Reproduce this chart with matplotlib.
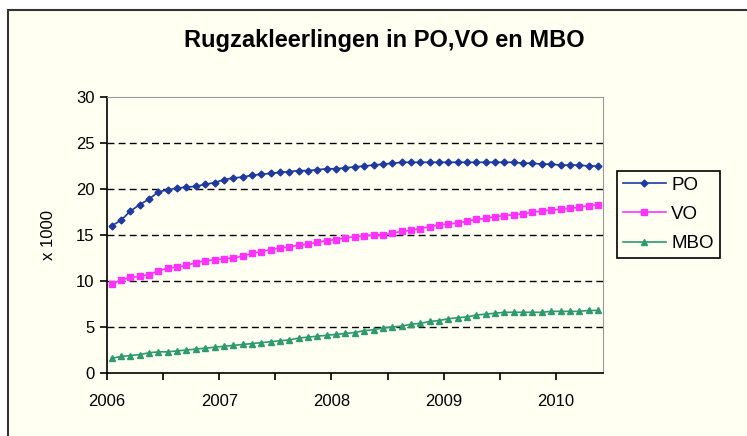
import numpy as np
import matplotlib
matplotlib.use("Agg")
import matplotlib.pyplot as plt
from matplotlib.patches import Rectangle

plt.rcParams["font.family"] = ["Liberation Sans", "DejaVu Sans"]

# monthly values, Jan 2006 .. May 2010 (x 1000)
po = [16.0, 16.6, 17.6, 18.3, 18.9, 19.7, 19.9, 20.1, 20.2, 20.3,
      20.5, 20.7, 21.0, 21.2, 21.3, 21.5, 21.6, 21.7, 21.8, 21.9,
      22.0, 22.0, 22.1, 22.2, 22.2, 22.3, 22.4, 22.5, 22.6, 22.7,
      22.8, 22.9, 22.9, 22.9, 22.9, 22.9, 22.9, 22.9, 22.9, 22.9,
      22.9, 22.9, 22.9, 22.9, 22.8, 22.8, 22.7, 22.7, 22.6, 22.6,
      22.6, 22.5, 22.5]
vo = [9.7, 10.1, 10.4, 10.5, 10.7, 11.1, 11.4, 11.5, 11.7, 12.0,
      12.2, 12.3, 12.4, 12.5, 12.7, 13.0, 13.2, 13.4, 13.6, 13.7,
      13.9, 14.0, 14.2, 14.4, 14.5, 14.7, 14.8, 14.9, 15.0, 15.0,
      15.2, 15.4, 15.5, 15.7, 15.9, 16.1, 16.2, 16.3, 16.5, 16.7,
      16.8, 17.0, 17.1, 17.2, 17.3, 17.5, 17.6, 17.7, 17.8, 17.9,
      18.0, 18.2, 18.3]
mbo = [1.6, 1.8, 1.9, 2.0, 2.2, 2.3, 2.3, 2.4, 2.5, 2.6,
       2.7, 2.8, 2.9, 3.0, 3.1, 3.2, 3.3, 3.4, 3.5, 3.6,
       3.8, 3.9, 4.0, 4.1, 4.2, 4.3, 4.4, 4.6, 4.7, 4.9,
       5.0, 5.1, 5.3, 5.4, 5.6, 5.7, 5.9, 6.0, 6.1, 6.3,
       6.4, 6.5, 6.6, 6.6, 6.6, 6.6, 6.6, 6.7, 6.7, 6.7,
       6.7, 6.8, 6.8]
years = [2006, 2007, 2008, 2009, 2010]

BG = "#FFFFF2"
months = np.arange(len(po))
x = 2006 + (months + 0.5) / 12

fig = plt.figure(figsize=(7.47, 4.36), dpi=100, facecolor="white")
# chart-area frame (only left/top edges visible, rest is cropped)
fig.patches.append(Rectangle((8 / 747, -0.05), 1.1, (436 - 10) / 436 + 0.05,
                             transform=fig.transFigure, fc=BG, ec="#333333",
                             lw=1.5, zorder=-5))

ax = fig.add_axes([107 / 747, 63 / 436, 496 / 747, 276 / 436])
ax.set_facecolor(BG)

ax.plot(x, po, color="#1F3A9E", lw=1.2, marker="D", ms=3.5, label="PO", zorder=3)
ax.plot(x, vo, color="#FF33FF", lw=1.2, marker="s", ms=4.0, label="VO", zorder=3)
ax.plot(x, mbo, color="#2E9A6E", lw=1.2, marker="^", ms=4.3, label="MBO", zorder=3)

ax.set_xlim(2006, 2010.42)
ax.set_ylim(0, 30)
ax.set_yticks(range(0, 31, 5))
ax.set_xticks(years)
ax.set_xticklabels([str(y) for y in years])
ax.set_xticks(np.arange(2006.5, 2010, 1.0), minor=True)
for yv in range(5, 30, 5):
    ax.axhline(yv, color="black", lw=1.0, ls=(0, (5, 3)), zorder=1)

for s in ["top", "right"]:
    ax.spines[s].set_color("#999999")
for s in ["left", "bottom"]:
    ax.spines[s].set_color("black")
    ax.spines[s].set_linewidth(1.2)
ax.tick_params(which="both", direction="out", length=5, width=1.2)
ax.tick_params(labelsize=12)
ax.tick_params(axis="x", pad=10)
ax.tick_params(axis="y", pad=4)

ax.set_ylabel("x 1000", fontsize=12, labelpad=14)
fig.text(384 / 747, 1 - 40 / 436, "Rugzakleerlingen in PO,VO en MBO",
         ha="center", va="center", fontsize=17, fontweight="bold")

leg = ax.legend(loc="upper left", bbox_to_anchor=(617 / 747, 1 - 171 / 436),
                bbox_transform=fig.transFigure, frameon=True, fancybox=False,
                edgecolor="black", facecolor=BG, framealpha=1, fontsize=13.5,
                handlelength=2.3, handletextpad=0.3, labelspacing=0.65,
                borderpad=0.3, borderaxespad=0)
leg.get_frame().set_linewidth(1.2)

fig.savefig("out.png", dpi=100, facecolor="white")
